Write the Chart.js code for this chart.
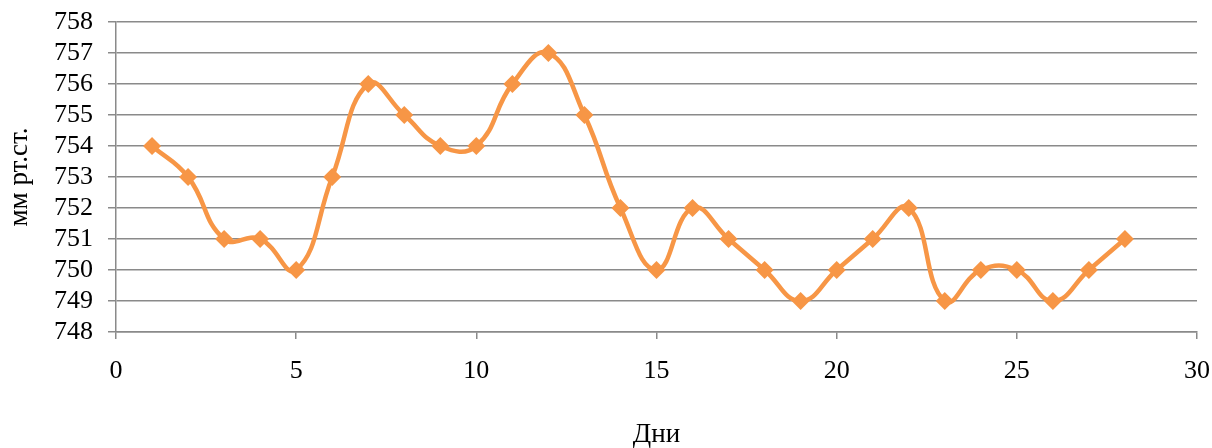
<!DOCTYPE html>
<html lang="ru">
<head>
    <meta charset="UTF-8">
    <title>Давление</title>
    <style>
        body { margin: 0; padding: 0; background: #fff; }
        #chartBox { width: 1212px; height: 448px; }
    </style>
    <script src="https://cdn.jsdelivr.net/npm/chart.js"></script>
</head>
<body>
    <div id="chartBox"><canvas id="pressureChart" width="1212" height="448"></canvas></div>
    <script>
        // days and pressure values
        const days = [1, 2, 3, 4, 5, 6, 7, 8, 9, 10, 11, 12, 13, 14, 15, 16, 17, 18, 19, 20, 21, 22, 23, 24, 25, 26, 27, 28];
        const pressure = [754, 753, 751, 751, 750, 753, 756, 755, 754, 754, 756, 757, 755, 752, 750, 752, 751, 750, 749, 750, 751, 752, 749, 750, 750, 749, 750, 751];
        const xTitle = 'Дни';
        const yTitle = 'мм рт.ст.';

        const serif = "'Liberation Serif', 'Times New Roman', serif";
        const gridColor = '#8a8a8a';
        const orange = '#F79646';

        const points = days.map((d, i) => ({ x: d, y: pressure[i] }));

        const config = {
            type: 'line',
            data: {
                datasets: [{
                    label: yTitle,
                    data: points,
                    borderColor: orange,
                    backgroundColor: orange,
                    borderWidth: 4.5,
                    tension: 0.45,
                    pointStyle: 'rectRot',
                    pointRadius: 9,
                    pointBorderWidth: 0,
                    pointBackgroundColor: orange
                }]
            },
            options: {
                responsive: false,
                animation: false,
                layout: { padding: { top: 22, right: 15, left: 0, bottom: 0 } },
                plugins: {
                    legend: { display: false },
                    tooltip: { enabled: false }
                },
                scales: {
                    x: {
                        type: 'linear',
                        min: 0,
                        max: 30,
                        ticks: { stepSize: 5, autoSkip: false, maxRotation: 0, color: '#000', font: { family: serif, size: 26 }, padding: 17 },
                        grid: { drawOnChartArea: false, drawTicks: true, tickLength: 7, color: gridColor, lineWidth: 1.5 },
                        border: { color: gridColor, width: 1.5 },
                        title: { display: true, text: xTitle, color: '#000', font: { family: serif, size: 27, lineHeight: 1 }, padding: 0 },
                        afterFit: s => { s.height = 116; s.paddingLeft = 0; s.paddingRight = 0; }
                    },
                    y: {
                        min: 748,
                        max: 758,
                        ticks: { stepSize: 1, autoSkip: false, color: '#000', font: { family: serif, size: 26 }, padding: 15 },
                        grid: { color: gridColor, lineWidth: 1.5, tickLength: 8 },
                        border: { color: gridColor, width: 1.5 },
                        title: { display: true, text: yTitle, color: '#000', font: { family: serif, size: 27 }, padding: { top: 4, bottom: 0 } },
                        afterFit: s => { s.width = 116; s.paddingTop = 0; s.paddingBottom = 0; }
                    }
                }
            }
        };

        new Chart(document.getElementById('pressureChart'), config);
    </script>
</body>
</html>
